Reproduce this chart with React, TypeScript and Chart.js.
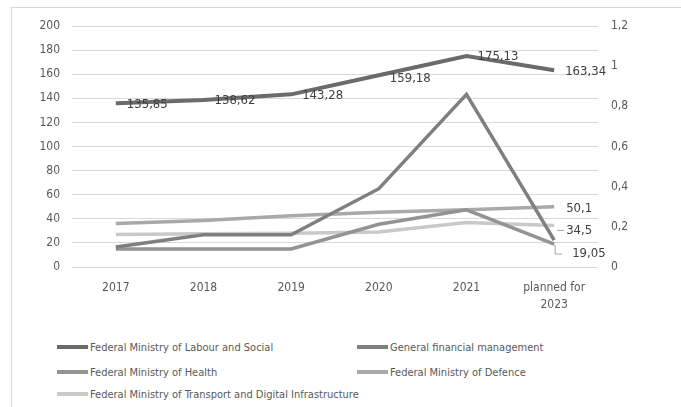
import React, { useEffect, useRef } from "react";
import { Chart, registerables } from "chart.js";

Chart.register(...registerables);

const categories: (string | string[])[] = ["2017", "2018", "2019", "2020", "2021", ["planned for", "2023"]];
const labourSocial = [135.85, 138.62, 143.28, 159.18, 175.13, 163.34];
const generalFinancial = [0.1, 0.16, 0.16, 0.39, 0.86, 0.134];
const health = [15, 15, 15, 35.5, 47.5, 19.05];
const defence = [36, 38.5, 42.5, 45.5, 47.5, 50.1];
const transport = [27, 27.5, 28, 29, 37, 34.5];
const leftTicks = [0, 20, 40, 60, 80, 100, 120, 140, 160, 180, 200];
const rightTicks = [0, 0.2, 0.4, 0.6, 0.8, 1, 1.2];

const seriesNames = [
  "Federal Ministry of Labour and Social",
  "General financial management",
  "Federal Ministry of Health",
  "Federal Ministry of Defence",
  "Federal Ministry of Transport and Digital Infrastructure",
];
const seriesColors = ["#6b6b6b", "#7f7f7f", "#939393", "#a9a9a9", "#c9c9c9"];

const FONT = "'Liberation Sans Narrow', 'DejaVu Sans Condensed', sans-serif";
const fmt = (v: number) => String(v).replace(".", ",");

const labelPlugin = {
  id: "dataLabels",
  afterDatasetsDraw(chart: any) {
    const ctx = chart.ctx;
    ctx.save();
    ctx.font = "13px " + FONT;
    ctx.fillStyle = "#404040";
    ctx.textBaseline = "middle";
    ctx.textAlign = "left";
    const m0 = chart.getDatasetMeta(0);
    m0.data.forEach((pt: any, i: number) => {
      const dy = i === 3 ? 3 : 1;
      ctx.fillText(fmt(labourSocial[i]), pt.x + 11, pt.y + dy);
    });
    const last = categories.length - 1;
    const pD = chart.getDatasetMeta(3).data[last];
    ctx.fillText(fmt(defence[last]), pD.x + 12, pD.y + 2);
    const pT = chart.getDatasetMeta(4).data[last];
    ctx.fillText(fmt(transport[last]), pT.x + 12, pT.y + 5);
    const pH = chart.getDatasetMeta(2).data[last];
    ctx.fillText(fmt(health[last]), pH.x + 18, pH.y + 10);
    ctx.strokeStyle = "#a6a6a6";
    ctx.lineWidth = 1;
    ctx.beginPath();
    ctx.moveTo(pT.x + 3, pT.y + 5);
    ctx.lineTo(pT.x + 10, pT.y + 5);
    ctx.moveTo(pH.x + 1, pH.y + 1);
    ctx.lineTo(pH.x + 1, pH.y + 10);
    ctx.lineTo(pH.x + 8, pH.y + 10);
    ctx.stroke();
    ctx.restore();
  },
};

function LineChart() {
  const ref = useRef<HTMLCanvasElement | null>(null);
  useEffect(() => {
    if (!ref.current) return;
    const mk = (idx: number, data: number[], axis: string, width: number) => ({
      label: seriesNames[idx],
      data,
      yAxisID: axis,
      borderColor: seriesColors[idx],
      backgroundColor: seriesColors[idx],
      borderWidth: width,
      pointRadius: 0,
      tension: 0,
      fill: false,
    });
    const chart = new Chart(ref.current, {
      type: "line",
      data: {
        labels: categories,
        datasets: [
          mk(0, labourSocial, "y", 4),
          mk(1, generalFinancial, "y1", 3.5),
          mk(2, health, "y", 3.5),
          mk(3, defence, "y", 3.5),
          mk(4, transport, "y", 3.5),
        ],
      },
      options: {
        animation: false,
        responsive: false,
        maintainAspectRatio: false,
        layout: { padding: { top: 26, left: 0, right: 0, bottom: 0 } },
        plugins: { legend: { display: false }, tooltip: { enabled: false } },
        scales: {
          x: {
            offset: true,
            grid: { display: false, drawTicks: false },
            border: { display: false },
            ticks: {
              padding: 12,
              color: "#595959",
              font: { size: 12, family: FONT, lineHeight: 1.45 },
              maxRotation: 0,
              autoSkip: false,
            },
            afterFit: (s: any) => {
              s.height = 53;
            },
          },
          y: {
            position: "left",
            min: 0,
            max: 200,
            afterBuildTicks: (s: any) => {
              s.ticks = leftTicks.map((v) => ({ value: v }));
            },
            grid: { color: "#d9d9d9", drawTicks: false, lineWidth: 1 },
            border: { display: false },
            ticks: {
              padding: 12,
              color: "#595959",
              font: { size: 12, family: FONT },
            },
            afterFit: (s: any) => {
              s.width = 72;
            },
          },
          y1: {
            position: "right",
            min: 0,
            max: 1.2,
            afterBuildTicks: (s: any) => {
              s.ticks = rightTicks.map((v) => ({ value: v }));
            },
            grid: { display: false, drawTicks: false },
            border: { display: false },
            ticks: {
              padding: 13,
              color: "#595959",
              font: { size: 12, family: FONT },
              callback: (v: any) => fmt(Number(v)),
            },
            afterFit: (s: any) => {
              s.width = 83;
            },
          },
        },
      },
      plugins: [labelPlugin],
    } as any);
    return () => chart.destroy();
  }, []);
  return <canvas ref={ref} width={681} height={320} style={{ position: "absolute", left: 0, top: 0 }} />;
}

function Legend() {
  const items = [
    { i: 0, x: 57, y: 347 },
    { i: 1, x: 357, y: 347 },
    { i: 2, x: 57, y: 372 },
    { i: 3, x: 357, y: 372 },
    { i: 4, x: 57, y: 394 },
  ];
  return (
    <>
      {items.map((it) => (
        <div
          key={it.i}
          style={{
            position: "absolute",
            left: it.x,
            top: it.y - 8,
            height: 16,
            display: "flex",
            alignItems: "center",
            whiteSpace: "nowrap",
            fontFamily: FONT,
            fontSize: 11,
            color: "#595959",
          }}
        >
          <span style={{ display: "inline-block", width: 31, height: 4, background: seriesColors[it.i], marginRight: 2 }} />
          <span>{seriesNames[it.i]}</span>
        </div>
      ))}
    </>
  );
}

export default function App() {
  return (
    <div style={{ position: "fixed", left: 0, top: 0, width: 681, height: 407, background: "#fff", overflow: "hidden" }}>
      <div
        style={{
          position: "absolute",
          left: 11,
          top: 7,
          width: 700,
          height: 420,
          borderLeft: "1px solid #d9d9d9",
          borderTop: "1px solid #d9d9d9",
        }}
      />
      <LineChart />
      <Legend />
    </div>
  );
}
